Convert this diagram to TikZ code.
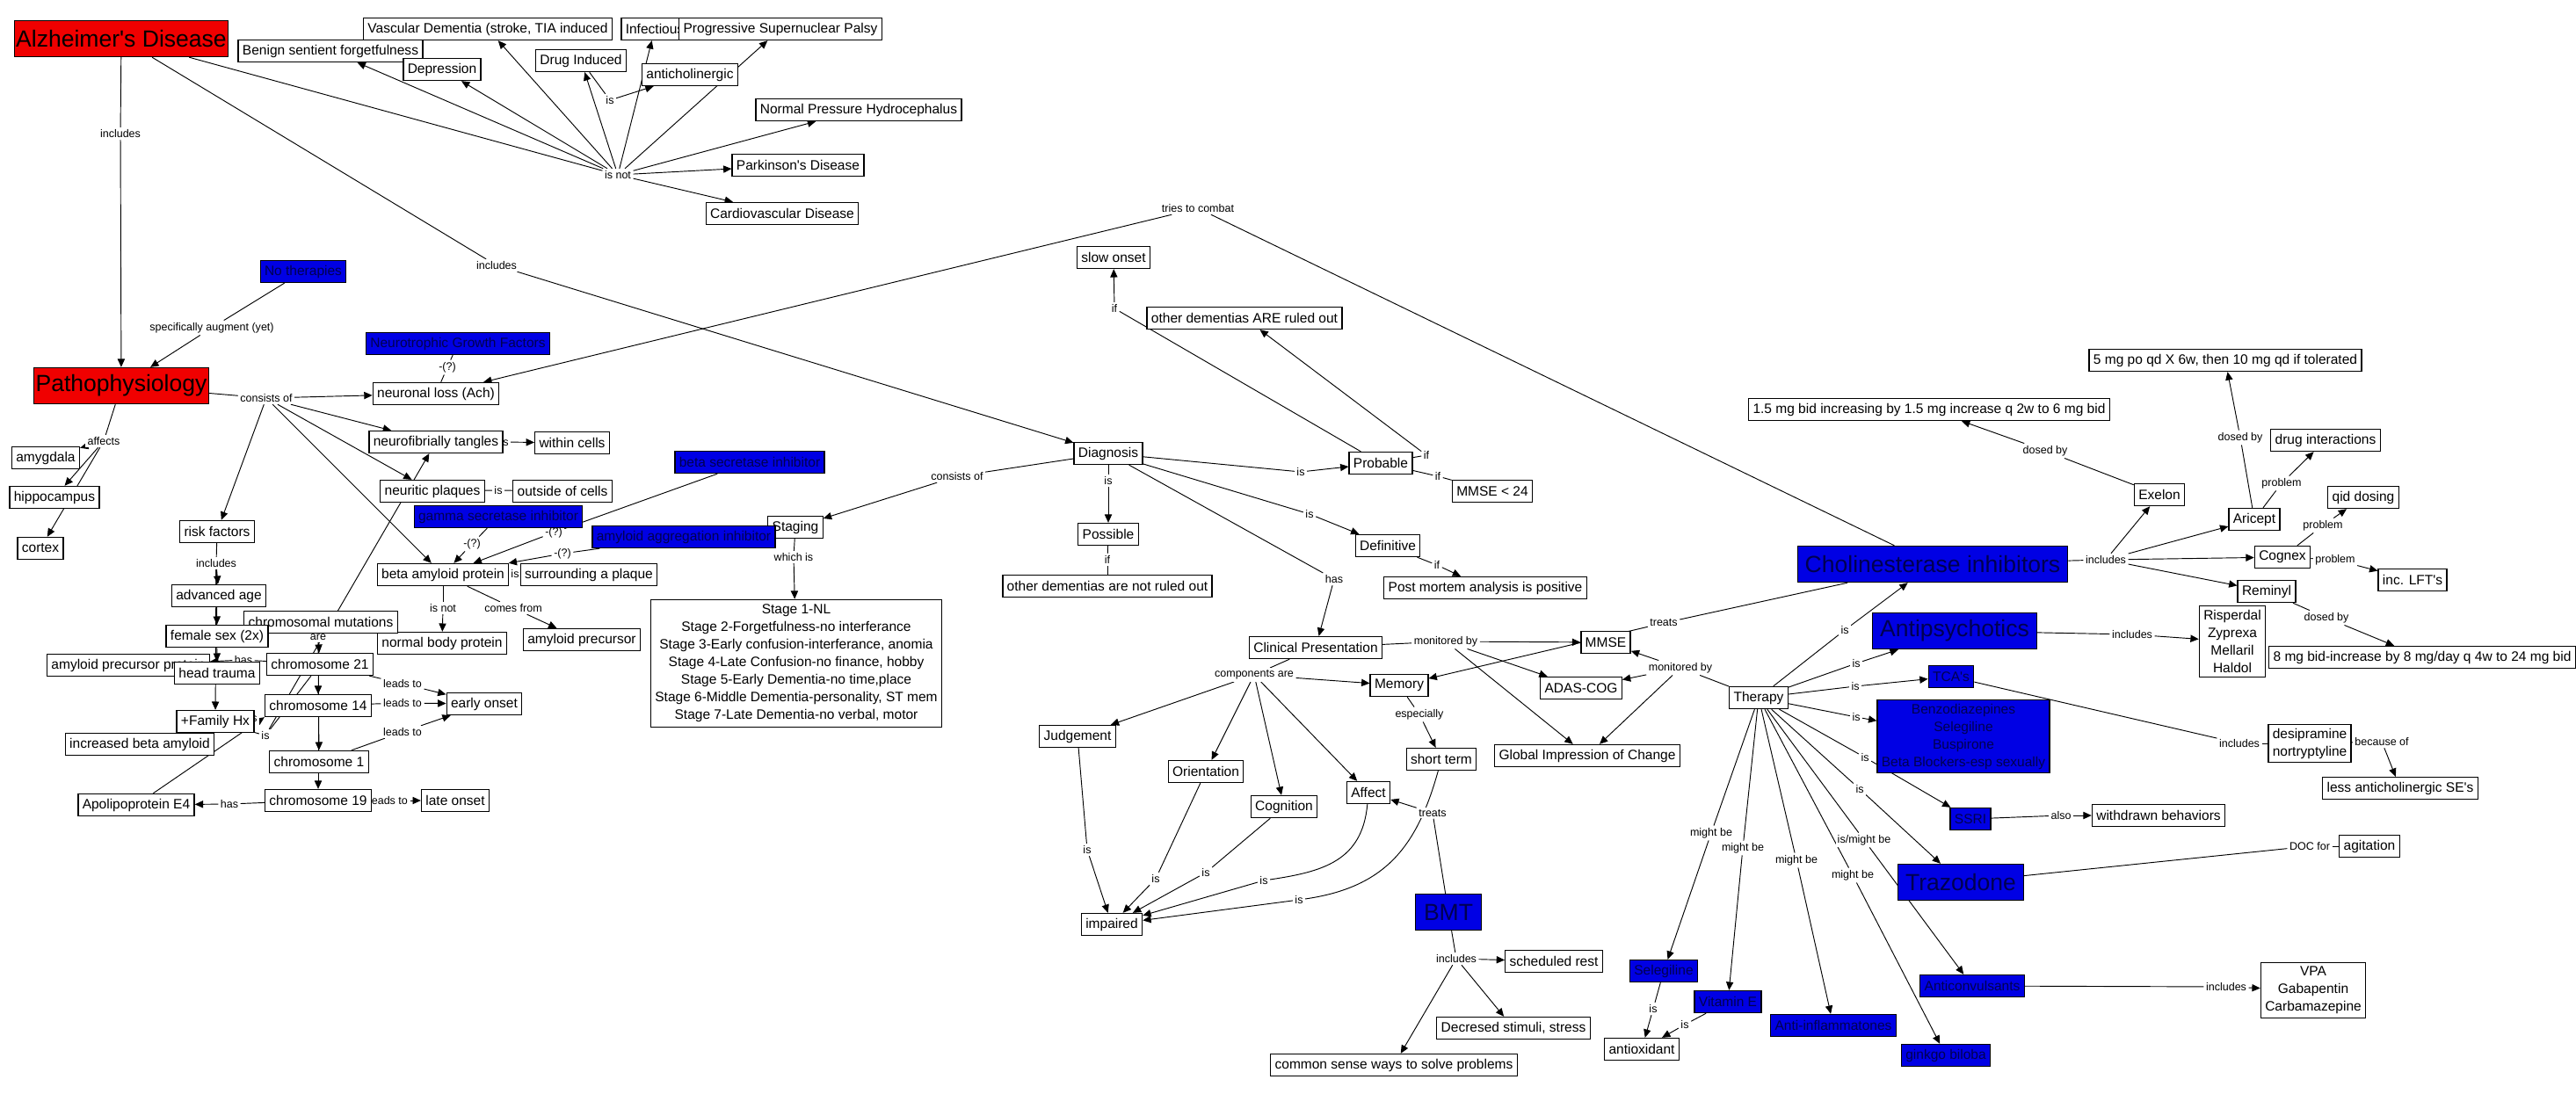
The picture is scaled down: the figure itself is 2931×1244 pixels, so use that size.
\documentclass[tikz,border=0pt]{standalone}
\usepackage{fontspec}
\setmainfont{Liberation Sans}
\usepackage{tikz}
\usetikzlibrary{arrows.meta, backgrounds}
\definecolor{cmapred}{RGB}{240,0,0}
\definecolor{cmapblue}{RGB}{0,0,228}
\definecolor{cmapink}{RGB}{0,0,80}
\tikzstyle{concept}=[draw=black, fill=white, line width=0.7pt, font=\fontsize{8.3}{10.7}\selectfont, inner xsep=2.6pt, inner ysep=2.4pt, minimum height=13.4pt, align=center]
\tikzstyle{bluebox}=[concept, fill=cmapblue, text=cmapink]
\tikzstyle{bigbox}=[concept, font=\fontsize{14.2}{17}\selectfont, minimum height=22pt, inner xsep=1pt]
\tikzstyle{redbox}=[bigbox, fill=cmapred]
\tikzstyle{bigblue}=[bigbox, fill=cmapblue, text=cmapink, inner xsep=4.5pt]
\tikzstyle{linklabel}=[fill=white, font=\fontsize{6.7}{8}\selectfont, inner sep=1.2pt]
\tikzstyle{arrow}=[draw=black, line width=0.5pt, -{Triangle[length=5pt,width=4.4pt]}]
\tikzstyle{joint}=[draw=black, line width=0.5pt]
\begin{document}
\begin{tikzpicture}[x=0.535pt, y=-0.535pt]
	\useasboundingbox (0, 0) rectangle (2931, 1244);
	\node (inc1) at (137, 152)[linklabel] {includes};
	\node (inc2) at (565, 302)[linklabel] {includes};
	\node (isnot) at (703, 199)[linklabel] {is not};
	\node (is1) at (694, 114)[linklabel] {is};
	\node (specaug) at (241, 373)[linklabel] {specifically augment (yet)};
	\node (consists) at (303, 453)[linklabel] {consists of};
	\node (q1) at (509, 418)[linklabel] {-(?)};
	\node (is2) at (574, 503)[linklabel] {is};
	\node (is3) at (567, 558)[linklabel] {is};
	\node (q2) at (537, 619)[linklabel] {-(?)};
	\node (q3) at (630, 606)[linklabel] {-(?)};
	\node (q4) at (640, 630)[linklabel] {-(?)};
	\node (is4) at (586, 653)[linklabel] {is};
	\node (isnot2) at (504, 692)[linklabel] {is not};
	\node (comes) at (584, 692)[linklabel] {comes from};
	\node (affects) at (118, 502)[linklabel] {affects};
	\node (inc3) at (246, 641)[linklabel] {includes};
	\node (are) at (362, 725)[linklabel] {are};
	\node (lt1) at (458, 778)[linklabel] {leads to};
	\node (lt2) at (458, 800)[linklabel] {leads to};
	\node (lt3) at (458, 833)[linklabel] {leads to};
	\node (is5) at (302, 837)[linklabel] {is};
	\node (lt4) at (442, 911)[linklabel] {leads to};
	\node (has2) at (261, 915)[linklabel] {has};
	\node (consists2) at (1089, 542)[linklabel] {consists of};
	\node (whichis) at (903, 634)[linklabel] {which is};
	\node (tries) at (1363, 237)[linklabel] {tries to combat};
	\node (if1) at (1268, 351)[linklabel] {if};
	\node (if2) at (1623, 518)[linklabel] {if};
	\node (if3) at (1636, 542)[linklabel] {if};
	\node (is7) at (1480, 537)[linklabel] {is};
	\node (is8) at (1261, 547)[linklabel] {is};
	\node (if4) at (1260, 637)[linklabel] {if};
	\node (is9) at (1490, 585)[linklabel] {is};
	\node (if5) at (1635, 643)[linklabel] {if};
	\node (has3) at (1518, 659)[linklabel] {has};
	\node (mon1) at (1645, 730)[linklabel] {monitored by};
	\node (treats1) at (1893, 709)[linklabel] {treats};
	\node (mon2) at (1912, 760)[linklabel] {monitored by};
	\node (comp) at (1427, 768)[linklabel] {components are};
	\node (espec) at (1615, 813)[linklabel] {especially};
	\node (treats2) at (1630, 925)[linklabel] {treats};
	\node (isj) at (1237, 967)[linklabel] {is};
	\node (iso) at (1315, 1000)[linklabel] {is};
	\node (isc) at (1372, 993)[linklabel] {is};
	\node (isa) at (1438, 1002)[linklabel] {is};
	\node (iss) at (1478, 1024)[linklabel] {is};
	\node (incbmt) at (1657, 1091)[linklabel] {includes};
	\node (dose1) at (2327, 513)[linklabel] {dosed by};
	\node (dose2) at (2549, 498)[linklabel] {dosed by};
	\node (prob1) at (2596, 550)[linklabel] {problem};
	\node (prob2) at (2643, 598)[linklabel] {problem};
	\node (prob3) at (2657, 637)[linklabel] {problem};
	\node (inc4) at (2396, 637)[linklabel] {includes};
	\node (dose3) at (2647, 703)[linklabel] {dosed by};
	\node (inc5) at (2426, 722)[linklabel] {includes};
	\node (ist1) at (2099, 717)[linklabel] {is};
	\node (ist2) at (2112, 755)[linklabel] {is};
	\node (ist3) at (2111, 781)[linklabel] {is};
	\node (ist4) at (2112, 816)[linklabel] {is};
	\node (ist5) at (2122, 862)[linklabel] {is};
	\node (ist6) at (2116, 898)[linklabel] {is};
	\node (isor) at (2121, 956)[linklabel] {is/might be};
	\node (mb1) at (1947, 948)[linklabel] {might be};
	\node (mb2) at (1983, 965)[linklabel] {might be};
	\node (mb3) at (2044, 979)[linklabel] {might be};
	\node (mb4) at (2108, 996)[linklabel] {might be};
	\node (also) at (2345, 928)[linklabel] {also};
	\node (inc6) at (2548, 846)[linklabel] {includes};
	\node (because) at (2710, 844)[linklabel] {because of};
	\node (doc) at (2628, 963)[linklabel] {DOC for};
	\node (inc7) at (2533, 1123)[linklabel] {includes};
	\node (iss1) at (1881, 1148)[linklabel] {is};
	\node (iss2) at (1917, 1166)[linklabel] {is};

	\node (alz) at (138, 44)[redbox] {Alzheimer\textquotesingle s Disease};
	\node (patho) at (138, 439)[redbox] {Pathophysiology};
	\node (vasc) at (555, 33)[concept] {Vascular Dementia (stroke, TIA induced};
	\node (benign) at (376, 58)[concept] {Benign sentient forgetfulness};
	\node (depr) at (503, 79)[concept] {Depression};
	\node (drug) at (661, 69)[concept] {Drug Induced};
	\node (infect) at (745, 33)[concept] {Infectious};
	\node (psp) at (888, 33)[concept] {Progressive Supernuclear Palsy};
	\node (antichol) at (785, 85)[concept] {anticholinergic};
	\node (nph) at (977, 125)[concept] {Normal Pressure Hydrocephalus};
	\node (park) at (908, 188)[concept] {Parkinson\textquotesingle s Disease};
	\node (cardio) at (890, 243)[concept] {Cardiovascular Disease};
	\node (notherap) at (345, 309)[bluebox] {No therapies};
	\node (neurotr) at (521, 391)[bluebox] {Neurotrophic Growth Factors};
	\node (neuron) at (496, 448)[concept] {neuronal loss (Ach)};
	\node (tangles) at (496, 503)[concept] {neurofibrially tangles};
	\node (within) at (651, 504)[concept] {within cells};
	\node (plaques) at (492, 559)[concept] {neuritic plaques};
	\node (outside) at (640, 559)[concept] {outside of cells};
	\node (betasec) at (853, 526)[bluebox] {beta secretase inhibitor};
	\node (gammasec) at (567, 588)[bluebox] {gamma secretase inhibitor};
	\node (staging) at (905, 600)[concept] {Staging};
	\node (aggreg) at (778, 611)[bluebox] {amyloid aggregation inhibitor};
	\node (stages) at (906, 755)[concept, inner ysep=3pt] {Stage 1-NL\\Stage 2-Forgetfulness-no interferance\\Stage 3-Early confusion-interferance, anomia\\Stage 4-Late Confusion-no finance, hobby\\Stage 5-Early Dementia-no time,place\\Stage 6-Middle Dementia-personality, ST mem\\Stage 7-Late Dementia-no verbal, motor};
	\node (betaamy) at (504, 654)[concept] {beta amyloid protein};
	\node (surround) at (670, 654)[concept] {surrounding a plaque};
	\node (normal) at (503, 732)[concept] {normal body protein};
	\node (amyprec) at (662, 728)[concept] {amyloid precursor};
	\node (amyg) at (52, 521)[concept] {amygdala};
	\node (hippo) at (62, 566)[concept] {hippocampus};
	\node (cortex) at (46, 624)[concept] {cortex};
	\node (risk) at (247, 605)[concept] {risk factors};
	\node (age) at (249, 678)[concept] {advanced age};
	\node (chrommut) at (365, 708)[concept] {chromosomal mutations};
	\node (female) at (247, 724)[concept] {female sex (2x)};
	\node (app) at (146, 757)[concept] {amyloid precursor protein};
	\node (has1) at (277, 751)[linklabel] {has};
	\node (headtr) at (247, 766)[concept] {head trauma};
	\node (chr21) at (364, 756)[concept] {chromosome 21};
	\node (chr14) at (362, 803)[concept] {chromosome 14};
	\node (early) at (551, 801)[concept] {early onset};
	\node (is6) at (288, 817)[linklabel] {is};
	\node (incbeta) at (159, 847)[concept] {increased beta amyloid};
	\node (famhx) at (245, 821)[concept] {+Family Hx};
	\node (chr1) at (363, 867)[concept] {chromosome 1};
	\node (chr19) at (362, 911)[concept] {chromosome 19};
	\node (late) at (518, 911)[concept] {late onset};
	\node (apo) at (155, 916)[concept] {Apolipoprotein E4};

	\node (slow) at (1267, 293)[concept] {slow onset};
	\node (otherare) at (1416, 362)[concept] {other dementias ARE ruled out};
	\node (diag) at (1261, 516)[concept] {Diagnosis};
	\node (prob) at (1571, 527)[concept] {Probable};
	\node (mmse24) at (1698, 559)[concept] {MMSE < 24};
	\node (possible) at (1261, 608)[concept] {Possible};
	\node (othernot) at (1260, 667)[concept] {other dementias are not ruled out};
	\node (definitive) at (1579, 621)[concept] {Definitive};
	\node (postm) at (1690, 669)[concept] {Post mortem analysis is positive};
	\node (clinical) at (1497, 737)[concept] {Clinical Presentation};
	\node (mmse) at (1827, 731)[concept] {MMSE};
	\node (adas) at (1799, 783)[concept] {ADAS-COG};
	\node (global) at (1806, 860)[concept] {Global Impression of Change};
	\node (memory) at (1592, 780)[concept] {Memory};
	\node (shortt) at (1640, 864)[concept] {short term};
	\node (judge) at (1226, 838)[concept] {Judgement};
	\node (orient) at (1372, 878)[concept] {Orientation};
	\node (cognit) at (1461, 918)[concept] {Cognition};
	\node (affect) at (1557, 902)[concept] {Affect};
	\node (bmt) at (1648, 1038)[bigblue, minimum width=40pt] {BMT};
	\node (impaired) at (1265, 1052)[concept] {impaired};
	\node (rest) at (1768, 1094)[concept] {scheduled rest};
	\node (stimuli) at (1722, 1170)[concept] {Decresed stimuli, stress};
	\node (commons) at (1586, 1212)[concept] {common sense ways to solve problems};

	\node (fivemg) at (2532, 410)[concept] {5 mg po qd X 6w, then 10 mg qd if tolerated};
	\node (onefive) at (2195, 466)[concept] {1.5 mg bid increasing by 1.5 mg increase q 2w to 6 mg bid};
	\node (exelon) at (2457, 563)[concept] {Exelon};
	\node (druginter) at (2646, 501)[concept] {drug interactions};
	\node (aricept) at (2565, 591)[concept] {Aricept};
	\node (qid) at (2689, 566)[concept] {qid dosing};
	\node (cognex) at (2597, 634)[concept] {Cognex};
	\node (lft) at (2745, 660)[concept] {inc. LFT\textquotesingle s};
	\node (chol) at (2199, 642)[bigblue] {Cholinesterase inhibitors};
	\node (reminyl) at (2579, 673)[concept] {Reminyl};
	\node (eightmg) at (2756, 748)[concept] {8 mg bid-increase by 8 mg/day q 4w to 24 mg bid};
	\node (antipsy) at (2224, 718)[bigblue] {Antipsychotics};
	\node (risper) at (2540, 730)[concept] {Risperdal\\Zyprexa\\Mellaril\\Haldol};
	\node (tca) at (2220, 770)[bluebox] {TCA\textquotesingle s};
	\node (therapy) at (2001, 794)[concept] {Therapy};
	\node (benzo) at (2234, 838)[bluebox] {Benzodiazepines\\Selegiline\\Buspirone\\Beta Blockers-esp sexually};
	\node (ssri) at (2242, 932)[bluebox] {SSRI};
	\node (withdrawn) at (2456, 928)[concept] {withdrawn behaviors};
	\node (desip) at (2628, 846)[concept] {desipramine\\nortryptyline};
	\node (lessac) at (2731, 897)[concept] {less anticholinergic SE\textquotesingle s};
	\node (agit) at (2696, 963)[concept] {agitation};
	\node (trazo) at (2231, 1004)[bigblue] {Trazodone};
	\node (seleg) at (1893, 1105)[bluebox] {Selegiline};
	\node (vite) at (1966, 1140)[bluebox] {Vitamin E};
	\node (antiinf) at (2086, 1167)[bluebox] {Anti-inflammatones};
	\node (ginkgo) at (2214, 1201)[bluebox] {ginkgo biloba};
	\node (anticonv) at (2244, 1122)[bluebox] {Anticonvulsants};
	\node (vpa) at (2632, 1127)[concept] {VPA\\Gabapentin\\Carbamazepine};
	\node (antiox) at (1868, 1194)[concept] {antioxidant};

	\begin{scope}[on background layer]
		\fill[white] (0, 0) rectangle (2931, 1244);
		\draw[joint] (alz) -- (inc1);
		\draw[arrow] (inc1) -- (patho);
		\draw[joint] (alz) -- (inc2);
		\draw[arrow] (inc2) -- (diag);
		\draw[joint] (alz) -- (isnot);
		\draw[arrow] (isnot) -- (benign);
		\draw[arrow] (isnot) -- (depr);
		\draw[arrow] (isnot) -- (vasc);
		\draw[arrow] (isnot) -- (drug);
		\draw[arrow] (isnot) -- (infect);
		\draw[arrow] (isnot) -- (psp);
		\draw[arrow] (isnot) -- (nph);
		\draw[arrow] (isnot) -- (park);
		\draw[arrow] (isnot) -- (cardio);
		\draw[joint] (drug) -- (is1);
		\draw[arrow] (is1) -- (antichol);
		\draw[joint] (notherap) -- (specaug);
		\draw[arrow] (specaug) -- (patho);
		\draw[joint] (patho) -- (consists);
		\draw[arrow] (consists) -- (neuron);
		\draw[arrow] (consists) -- (tangles);
		\draw[arrow] (consists) -- (plaques);
		\draw[arrow] (consists) -- (betaamy);
		\draw[arrow] (consists) -- (risk);
		\draw[joint] (neurotr) -- (q1);
		\draw[joint] (q1) -- (neuron);
		\draw[joint] (tangles) -- (is2);
		\draw[arrow] (is2) -- (within);
		\draw[joint] (plaques) -- (is3);
		\draw[joint] (is3) -- (outside);
		\draw[joint] (gammasec) -- (q2);
		\draw[arrow] (q2) -- (betaamy);
		\draw[joint] (betasec) -- (q3);
		\draw[arrow] (q3) -- (betaamy);
		\draw[joint] (aggreg) -- (q4);
		\draw[arrow] (q4) -- (betaamy);
		\draw[joint] (betaamy) -- (is4);
		\draw[joint] (is4) -- (surround);
		\draw[joint] (betaamy) -- (isnot2);
		\draw[arrow] (isnot2) -- (normal);
		\draw[joint] (betaamy) -- (comes);
		\draw[arrow] (comes) -- (amyprec);
		\draw[joint] (patho) -- (affects);
		\draw[arrow] (affects) -- (amyg);
		\draw[arrow] (affects) -- (hippo);
		\draw[arrow] (affects) -- (cortex);
		\draw[joint] (risk) -- (inc3);
		\draw[arrow] (inc3) -- (age);
		\draw[arrow] (inc3) -- (female);
		\draw[arrow] (inc3) -- (headtr);
		\draw[arrow] (inc3) -- (famhx);
		\draw[joint] (chrommut) -- (are);
		\draw[arrow] (are) -- (chr21);
		\draw[arrow] (are) -- (chr14);
		\draw[arrow] (are) -- (chr1);
		\draw[arrow] (are) -- (chr19);
		\draw[joint] (chr21) -- (has1);
		\draw[arrow] (has1) -- (app);
		\draw[joint] (chr21) -- (lt1);
		\draw[arrow] (lt1) -- (early);
		\draw[joint] (chr14) -- (lt2);
		\draw[arrow] (lt2) -- (early);
		\draw[joint] (chr1) -- (lt3);
		\draw[arrow] (lt3) -- (early);
		\draw[joint] (chr19) -- (lt4);
		\draw[arrow] (lt4) -- (late);
		\draw[joint] (chr19) -- (has2);
		\draw[arrow] (has2) -- (apo);
		\draw[joint] (famhx) -- (is5);
		\draw[arrow] (is5) -- (tangles);
		\draw[joint] (is5) -- (chr21);
		\draw[arrow] (apo) -- (chr14.south west);
		\draw[joint] (diag) -- (consists2);
		\draw[arrow] (consists2) -- (staging);
		\draw[joint] (staging) -- (whichis);
		\draw[arrow] (whichis) -- (stages);
		\draw[joint] (diag) -- (is7);
		\draw[arrow] (is7) -- (prob);
		\draw[joint] (diag) -- (is8);
		\draw[arrow] (is8) -- (possible);
		\draw[joint] (diag) -- (is9);
		\draw[arrow] (is9) -- (definitive);
		\draw[joint] (diag) -- (has3);
		\draw[arrow] (has3) -- (clinical);
		\draw[joint] (prob) -- (if1);
		\draw[arrow] (if1) -- (slow);
		\draw[joint] (prob) -- (if2);
		\draw[arrow] (if2) -- (otherare);
		\draw[joint] (prob) -- (if3);
		\draw[joint] (if3) -- (mmse24);
		\draw[joint] (possible) -- (if4);
		\draw[joint] (if4) -- (othernot);
		\draw[joint] (definitive) -- (if5);
		\draw[arrow] (if5) -- (postm);
		\draw[joint] (clinical) -- (mon1);
		\draw[arrow] (mon1) -- (mmse);
		\draw[arrow] (mon1) -- (adas);
		\draw[arrow] (mon1) -- (global);
		\draw[joint] (clinical) -- (comp);
		\draw[arrow] (comp) -- (memory);
		\draw[arrow] (comp) -- (judge);
		\draw[arrow] (comp) -- (orient);
		\draw[arrow] (comp) -- (cognit);
		\draw[arrow] (comp) -- (affect);
		\draw[joint] (memory) -- (espec);
		\draw[arrow] (espec) -- (shortt);
		\draw[joint] (judge) -- (isj);
		\draw[arrow] (isj) -- (impaired);
		\draw[joint] (orient) -- (iso);
		\draw[arrow] (iso) -- (impaired);
		\draw[joint] (cognit) -- (isc);
		\draw[arrow] (isc) -- (impaired);
		\draw[joint] (affect) .. controls (1550, 980) and (1505, 992) .. (isa);
		\draw[arrow] (isa) -- (impaired);
		\draw[joint] (shortt) .. controls (1612, 965) and (1575, 1010) .. (iss);
		\draw[arrow] (iss) -- (impaired);
		\draw[joint] (bmt) -- (treats2);
		\draw[arrow] (treats2) -- (affect);
		\draw[joint] (bmt) -- (incbmt);
		\draw[arrow] (incbmt) -- (rest);
		\draw[arrow] (incbmt) -- (stimuli);
		\draw[arrow] (incbmt) -- (commons);
		\draw[joint] (chol) -- (tries);
		\draw[arrow] (tries) -- (neuron);
		\draw[joint] (chol) -- (treats1);
		\draw[arrow] (treats1) -- (memory);
		\draw[joint] (therapy) -- (mon2);
		\draw[arrow] (mon2) -- (mmse);
		\draw[arrow] (mon2) -- (adas);
		\draw[arrow] (mon2) -- (global);
		\draw[joint] (therapy) -- (ist1);
		\draw[arrow] (ist1) -- (chol);
		\draw[joint] (therapy) -- (ist2);
		\draw[arrow] (ist2) -- (antipsy);
		\draw[joint] (therapy) -- (ist3);
		\draw[arrow] (ist3) -- (tca);
		\draw[joint] (therapy) -- (ist4);
		\draw[arrow] (ist4) -- (benzo);
		\draw[joint] (therapy) -- (ist5);
		\draw[arrow] (ist5) -- (ssri);
		\draw[joint] (therapy) -- (ist6);
		\draw[arrow] (ist6) -- (trazo);
		\draw[joint] (therapy) -- (mb1);
		\draw[arrow] (mb1) -- (seleg);
		\draw[joint] (therapy) -- (mb2);
		\draw[arrow] (mb2) -- (vite);
		\draw[joint] (therapy) -- (mb3);
		\draw[arrow] (mb3) -- (antiinf);
		\draw[joint] (therapy) -- (mb4);
		\draw[arrow] (mb4) -- (ginkgo);
		\draw[joint] (therapy) -- (isor);
		\draw[arrow] (isor) -- (anticonv);
		\draw[joint] (seleg) -- (iss1);
		\draw[arrow] (iss1) -- (antiox);
		\draw[joint] (vite) -- (iss2);
		\draw[arrow] (iss2) -- (antiox);
		\draw[joint] (chol) -- (inc4);
		\draw[arrow] (inc4) -- (exelon);
		\draw[arrow] (inc4) -- (aricept);
		\draw[arrow] (inc4) -- (cognex);
		\draw[arrow] (inc4) -- (reminyl);
		\draw[joint] (exelon) -- (dose1);
		\draw[arrow] (dose1) -- (onefive);
		\draw[joint] (aricept) -- (dose2);
		\draw[arrow] (dose2) -- (fivemg);
		\draw[joint] (aricept) -- (prob1);
		\draw[arrow] (prob1) -- (druginter);
		\draw[joint] (cognex) -- (prob2);
		\draw[arrow] (prob2) -- (qid);
		\draw[joint] (cognex) -- (prob3);
		\draw[arrow] (prob3) -- (lft);
		\draw[joint] (reminyl) -- (dose3);
		\draw[arrow] (dose3) -- (eightmg);
		\draw[joint] (antipsy) -- (inc5);
		\draw[arrow] (inc5) -- (risper);
		\draw[joint] (tca) -- (inc6);
		\draw[joint] (inc6) -- (desip);
		\draw[joint] (desip) -- (because);
		\draw[arrow] (because) -- (lessac);
		\draw[joint] (ssri) -- (also);
		\draw[arrow] (also) -- (withdrawn);
		\draw[joint] (trazo) -- (doc);
		\draw[joint] (doc) -- (agit);
		\draw[joint] (anticonv) -- (inc7);
		\draw[arrow] (inc7) -- (vpa);
	\end{scope}
\end{tikzpicture}
\end{document}
